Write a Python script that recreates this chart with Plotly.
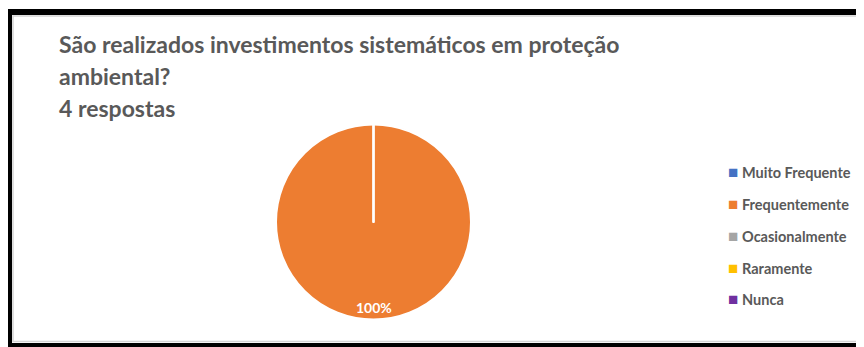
import plotly.graph_objects as go

# dados da pergunta (4 respostas)
labels = ["Muito Frequente", "Frequentemente", "Ocasionalmente", "Raramente", "Nunca"]
values = [0, 4, 0, 0, 0]
colors = ["#4472C4", "#ED7D31", "#A5A5A5", "#FFC000", "#7030A0"]

title_lines = ["São realizados investimentos sistemáticos em proteção", "ambiental?"]
subtitle = "4 respostas"

# a página tem 8px de margem no body, então a figura é um pouco menor
OFF = 8
W, H = 864 - OFF, 347 - OFF
FONT = "Lato"
GREY = "#595959"


def px(x):
    return (x - OFF) / W


def py(y):
    return 1 - (y - OFF) / H


total = sum(values)
# só mostra o rótulo da fatia que tem valor
slice_text = [f"{v / total:.0%}" if v else "" for v in values]

# geometria da pizza (px da janela)
cx, cy, r = 373.5, 222, 97.5

fig = go.Figure()
fig.add_trace(go.Pie(
    labels=labels,
    values=values,
    sort=False,
    direction="clockwise",
    rotation=0,
    marker=dict(colors=colors, line=dict(color="white", width=2)),
    textinfo="none",
    showlegend=False,
    domain=dict(x=[px(cx - r), px(cx + r)], y=[py(cy + r), py(cy - r)]),
    hoverinfo="label+value+percent",
))

annotations = []
# título em linhas separadas (espaçamento maior que o padrão)
for i, line in enumerate(title_lines + [subtitle]):
    annotations.append(dict(
        text=f"<b>{line}</b>", x=px(57), y=py(44 + i * 32),
        xref="paper", yref="paper", xanchor="left", yanchor="middle",
        showarrow=False, font=dict(family=FONT, size=23, color=GREY),
    ))

# rótulo da fatia de 100% (fica embaixo, como no Excel)
for t in slice_text:
    if t:
        annotations.append(dict(
            text=f"<b>{t}</b>", x=px(cx), y=py(307),
            xref="paper", yref="paper", xanchor="center", yanchor="middle",
            showarrow=False, font=dict(family=FONT, size=14, color="white"),
        ))

# legenda manual (espaçamento do Excel)
for i, (lab, col) in enumerate(zip(labels, colors)):
    annotations.append(dict(
        text=f"<span style='color:{col};font-size:17px'>■</span> <b>{lab}</b>",
        x=px(726), y=py(172 + i * 31.7),
        xref="paper", yref="paper", xanchor="left", yanchor="middle",
        showarrow=False, font=dict(family=FONT, size=14.5, color=GREY),
    ))

# moldura preta do print + sombra cinza por dentro
frame = [
    dict(type="rect", xref="paper", yref="paper",
         x0=px(13), x1=1.05, y0=py(341.5), y1=py(16),
         line=dict(color="#d4d4d4", width=1.5), fillcolor="rgba(0,0,0,0)", layer="below"),
    dict(type="rect", xref="paper", yref="paper",
         x0=px(9), x1=1.05, y0=py(346), y1=py(12),
         line=dict(color="black", width=6), fillcolor="rgba(0,0,0,0)", layer="below"),
]

fig.update_layout(
    width=W, height=H,
    margin=dict(l=0, r=0, t=0, b=0),
    paper_bgcolor="white",
    plot_bgcolor="white",
    annotations=annotations,
    shapes=frame,
)

fig.write_html("out.html")
